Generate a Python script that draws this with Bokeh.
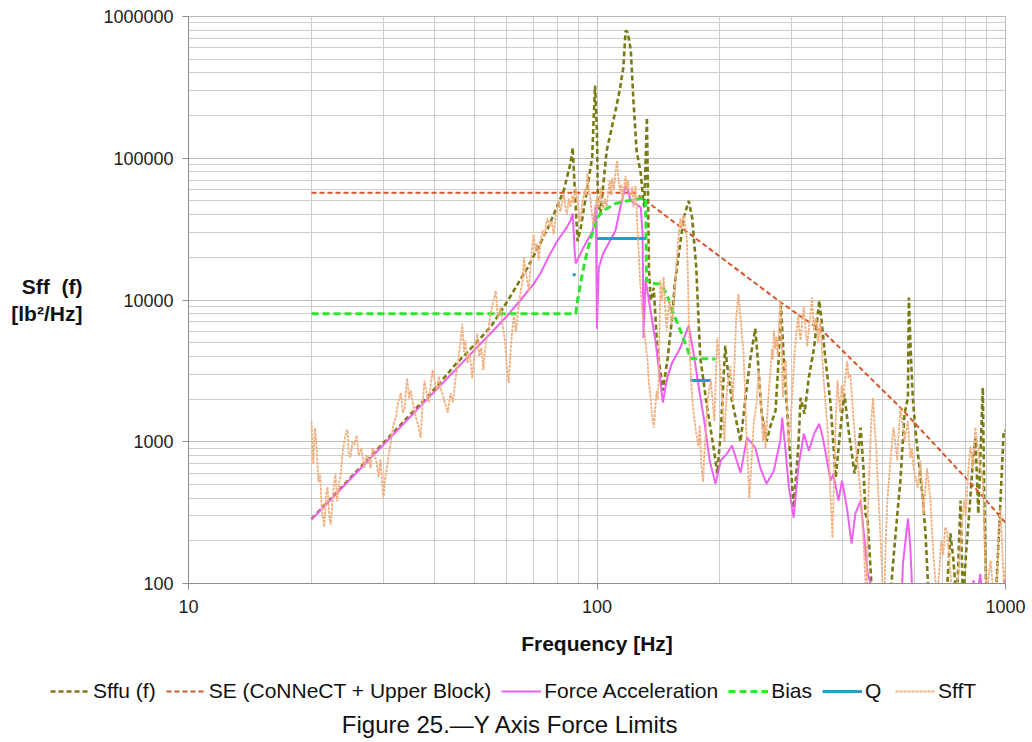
import math
from bokeh.plotting import figure
from bokeh.layouts import column
from bokeh.models import Range1d, FixedTicker, PrintfTickFormatter, Legend, LegendItem, Label
from bokeh.embed import file_html
from bokeh.resources import INLINE

NAN = float("nan")

# ---------------- data ----------------
sffu_freq = [20, 30, 40, 45, 50, 55, 60.5, 67.6, 75.8, 82.9, 86.1, 87.2, 88.0, 89.6, 91.2, 94.7, 97.3, 98.9,
             100, 100.5, 102, 105.6, 111, 113.6, 116, 117.5, 119, 121, 122.8, 125, 128, 129.3, 130.5, 132.5,
             133.5, 134, 135.3, 137.7, 140.4, 145, 149, 153, 155, 163, 167.7, 171, 175, 177, 179, 186, 193,
             197, 201, 206, 208, 214, 220, 224.6, 231, 237.6, 244, 248, 253, 260, 266, 273.6, 278, 282, 287,
             296, 303, 311, 315, 322, 330, 340, 350, 354, 362, 373, 384, 394, 403, 413, 427, 436, 442, 449,
             454, 460, 473, 520, 532, 543, 553, 566, 577, 580, 585, 593, 602, 612, 627, 637, 650, 715, 733,
             745, 760, 776, 787, 800, 815, 830, 844, 858, 880, 887, 898, 945, 972, 990, 1000]
sffu_val = [285, 980, 2350, 3500, 4800, 6500, 9900, 16900, 32000, 59000, 91900, 119000, 70000, 26000, 32000,
            62000, 101000, 326000, 149000, 50000, 40800, 113000, 217000, 300000, 436000, 796000, 770000, 576000,
            255000, 113000, 78000, 57000, 45000, 194000, 40000, 16900, 9900, 12200, 4600, 2300, 3930, 7900,
            13000, 38000, 50000, 38000, 16900, 7900, 3930, 1740, 908, 596, 1200, 4760, 3560, 1950, 1340, 1000,
            2050, 3930, 6280, 3560, 1580, 1000, 1300, 1660, 3560, 9120, 3560, 910, 343, 910, 2040, 1580, 2830,
            4620, 9900, 7500, 3930, 1860, 560, 1200, 2180, 1200, 596, 880, 1260, 650, 311, 277, 70, 70, 152,
            300, 531, 1580, 2040, 10400, 5000, 2040, 1200, 770, 404, 226, 70, 70, 226, 150, 70, 384, 70, 160,
            311, 656, 1070, 311, 2410, 404, 70, 70, 384, 1200, 1200]

se_freq = [20, 124, 282, 362, 553, 868, 1000]
se_val = [57000, 57000, 9600, 5800, 1740, 430, 268]

force_freq = [20, 30, 40, 50, 57, 60, 65, 70, 72.8, 76, 80, 84, 86.1, 87.2, 88.2, 88.7, 92.6, 97.7, 99.3,
              100, 101, 103.5, 111, 114, 117.5, 119, 120.9, 124, 128, 129.3, 130, 131.5, 134, 139, 145, 148.4,
              152.4, 160, 167.7, 173, 178, 183, 188.7, 195, 201, 208, 214, 224.6, 233, 244, 251, 260, 271, 281,
              284, 289, 295, 303, 311, 321, 330, 340, 350, 357, 363, 373, 379, 390, 398, 409, 420, 429, 442,
              460, 473, 480, 555, 561, 577, 585, 593, 820, 835, 850, 868, 880, 985, 993, 1000]
force_val = [282, 952, 2256, 4400, 6530, 7620, 10000, 13000, 15500, 20000, 26200, 32000, 36300, 40800, 22000,
             18100, 23400, 30900, 47000, 6280, 16900, 21200, 30900, 44800, 64100, 59000, 50200, 47900, 45000,
             29000, 5400, 14000, 9900, 5160, 1890, 2800, 3560, 4620, 6590, 3930, 2300, 1410, 737, 506, 737, 824,
             940, 605, 1070, 910, 656, 506, 625, 1020, 1480, 910, 474, 291, 656, 1140, 865, 1140, 1340, 1070,
             824, 531, 590, 384, 531, 343, 191, 311, 384, 117, 90, 60, 60, 138, 287, 179, 70, 70, 105, 80, 117,
             70, 70, 105, 90]

bias_freq = [20, 88.7, 89.6, 92.1, 94.7, 97.3, 100.2, 103.5, 111, 119, 128, 131.5, 132.2, 139, 143, 148, 153,
             160, 167, 169.4, 195]
bias_val = [8000, 8000, 9900, 15400, 22300, 29400, 38200, 42700, 47900, 50200, 52000, 52000, 13700, 13000,
            13000, 11100, 8400, 6080, 4390, 3860, 3840]

q_freq = [87.2, 88.7, NAN, 100, 131.5, NAN, 169, 190]
q_val = [15100, 15100, NAN, 27200, 27200, NAN, 2700, 2700]

sfft_freq = [20, 20.2, 20.4, 20.6, 20.8, 21.0, 21.2, 21.5, 21.7, 21.9, 22.1, 22.3, 22.6, 22.9, 23.1, 23.4,
             23.6, 23.9, 24.2, 24.5, 24.7, 24.9, 25.2, 25.5, 25.8, 26.1, 26.5, 26.9, 27.2, 27.5, 27.9, 28.2,
             28.5, 28.9, 29.2, 29.5, 29.8, 30.0, 30.3, 30.6, 30.9, 31.3, 31.7, 32.2, 32.6, 33.1, 33.5, 33.8,
             34.1, 34.3, 34.7, 35.0, 35.5, 36.0, 36.5, 37.0, 37.4, 37.8, 38.3, 38.8, 39.2, 39.6, 40.1, 40.6,
             41.0, 41.4, 42.2, 43.1, 43.8, 44.4, 45.0, 45.6, 46.2, 46.8, 47.2, 47.6, 48.2, 48.8, 49.5, 50.2,
             50.9, 51.5, 52.1, 52.7, 53.4, 54.1, 54.9, 55.6, 56.5, 57.2, 58.1, 58.8, 59.5, 60.1, 60.8, 61.5,
             62.0, 62.6, 63.3, 64.0, 64.5, 65.2, 65.8, 66.2, 66.8, 67.4, 68.1, 68.8, 69.4, 70.0, 70.7, 71.3,
             72.0, 72.8, 73.6, 74.5, 75.1, 75.7, 76.5, 77.4, 78.4, 79.3, 80.1, 80.6, 81.3, 82.1, 83.0, 83.6,
             84.4, 85.3, 86.1, 87.0, 87.6, 88.7, 89.4, 90.1, 90.6, 91.2, 92.2, 93.3, 94.0, 94.7, 95.5, 96.5,
             97.2, 98.0, 98.8, 99.5, 100.3, 101, 102, 102.7, 103.5, 104.5, 105.6, 106.5, 107.5, 108.2, 109,
             110, 111, 112, 113, 114, 114.7, 115.4, 116.4, 117.5, 118.2, 119, 120, 121, 122, 122.8, 123.5,
             124.3, 125, 125.6, 126.5, 127.2, 128, 129, 130, 131.5, 133, 134, 135.3, 136.5, 137.7, 138.8, 140,
             140.8, 141.5, 142.2, 143, 144.2, 145.6, 146.8, 148, 149.2, 150.5, 152, 153.4, 154.8, 156, 158,
             160, 161.5, 163, 164.5, 166, 167, 167.7, 168.8, 170, 171.2, 172.5, 174.5, 177, 178.5, 180, 182,
             183, 184, 185, 186, 188, 190, 192, 193.8, 195.5, 197, 199, 201, 203, 205, 206.5, 208, 210, 212,
             213.5, 215, 217, 219, 220.5, 222, 224, 226, 227, 228, 230, 232, 234, 236, 237.5, 239, 240.5, 242,
             244, 246, 247.5, 249, 250, 251, 253, 255, 257, 258.5, 260, 262, 264, 266, 268, 269.5, 271, 273,
             275, 277, 279, 280, 281, 283, 285, 287, 288.5, 290, 292, 293.5, 295, 297.5, 300, 302.5, 305, 308,
             311, 313, 315, 318, 321, 324, 327, 328.5, 330, 333, 336, 338, 340, 342.5, 345, 348, 352, 355, 359,
             363, 367, 370, 373, 375, 377, 380, 384, 386, 388, 391, 394, 397, 400, 405, 410, 413, 417, 421,
             425, 429, 434, 438, 442, 445, 449, 453, 457, 460, 464, 467, 470, 474, 478, 483, 487, 492, 497,
             501, 505, 509, 514, 520, 526, 532, 537, 543, 548, 553, 559, 566, 571, 577, 581, 585, 590, 596,
             603, 610, 614, 619, 624, 630, 636, 643, 649, 655, 660, 666, 673, 680, 688, 696, 704, 712, 720,
             728, 737, 745, 754, 765, 776, 784, 793, 800, 806, 813, 821, 826, 830, 837, 844, 851, 858, 865,
             872, 880, 886, 892, 898, 908, 919, 930, 945, 955, 963, 972, 980, 990, 1000]
sfft_val = [1400, 700, 1250, 900, 520, 600, 330, 250, 420, 480, 300, 260, 450, 600, 380, 520,
            600, 900, 1100, 1220, 800, 780, 1000, 950, 1110, 800, 900, 650, 800, 780, 650, 900,
            830, 700, 560, 750, 500, 400, 550, 650, 800, 1000, 1300, 1500, 1900, 2200, 1600, 1700,
            2400, 2800, 2000, 2300, 1800, 1500, 1300, 1070, 1800, 2700, 2200, 1900, 2600, 3200, 2600, 2300,
            2900, 2400, 2000, 1600, 2200, 1900, 2700, 3500, 4800, 6800, 4300, 5200, 3600, 4200, 2800, 4300,
            5800, 4000, 4600, 3200, 5000, 6000, 7900, 9500, 11600, 7500, 8900, 6500, 5200, 3500, 2600, 4500,
            6000, 7900, 6000, 8000, 9900, 12000, 13700, 20000, 16000, 14000, 11600, 18000, 24000, 29000, 22000, 25000,
            19000, 26000, 31000, 28000, 35000, 38000, 33000, 36000, 29000, 40000, 45000, 50000, 42000, 48000, 56000, 46000,
            40000, 52000, 45000, 55000, 48000, 62000, 52000, 43000, 35000, 38000, 50000, 60000, 55000, 78000, 60000, 50000,
            40000, 32000, 42000, 48000, 54000, 45000, 62000, 50000, 43000, 52000, 45000, 58000, 70000, 55000, 73000,
            60000, 80000, 96000, 68000, 59000, 65000, 50000, 62000, 75000, 60000, 70000, 58000, 55000, 63000, 45000, 52000,
            64000, 45000, 32000, 22000, 15000, 11600, 8500, 6800, 5000, 3700, 2600, 2040, 1500, 1260, 1700, 2300,
            2000, 2700, 6000, 13700, 10000, 14500, 9000, 6100, 8000, 10000, 6800, 7900, 11000, 16000, 26000,
            38000, 32000, 40000, 33000, 26000, 14000, 7200, 4200, 2700, 2000, 1600, 1200, 930, 1300, 700, 520,
            800, 1000, 1300, 1750, 2300, 2700, 1900, 1400, 3000, 5400, 4000, 2700, 1800, 1000, 1600, 2300, 2900, 3400,
            2600, 1950, 3500, 7200, 9000, 11000, 8000, 6100, 5000, 4700, 2500, 1200, 700, 400, 550, 740, 1000, 1370,
            1600, 1900, 2600, 3200, 2700, 2300, 1500, 1000, 1400, 900, 1200, 1800, 2500, 3200, 4500, 3800, 6100, 4500,
            5500, 4000, 6400, 8000, 10000, 5000, 2040, 2800, 3700, 3700, 1800, 1200, 930, 1400, 1900, 3000, 4400, 6000,
            7900, 6000, 5200, 7000, 8900, 6200, 4700, 5500, 6100, 8000, 10400, 7500, 6100, 7500, 7100, 5000, 7100, 4500, 2700,
            1800, 1180, 700, 400, 300, 210, 500, 1360, 2000, 2700, 2000, 1600, 2500, 2040, 2800, 3700, 2800, 3000, 2000,
            1400, 1000, 740, 550, 430, 300, 200, 120, 75, 300, 600, 1000, 1500, 2040, 1300, 860, 500, 280, 150,
            80, 75, 200, 390, 600, 900, 1260, 1000, 740, 1200, 1740, 1400, 1000, 1200, 1400, 1000, 770, 900, 640,
            550, 470, 600, 740, 500, 310, 450, 650, 500, 390, 250, 160, 110, 75, 120, 200, 160, 250, 230,
            150, 100, 85, 75, 110, 180, 280, 390, 300, 470, 700, 930, 800, 640, 900, 1260, 1000, 860, 700,
            600, 530, 300, 150, 75, 110, 145, 100, 75, 120, 250, 343, 200, 100, 130]

series_names = ["Sffu (f)", "SE (CoNNeCT + Upper Block)", "Force Acceleration", "Bias", "Q", "SffT"]
x_ticks = [10, 100, 1000]
y_ticks = [100, 1000, 10000, 100000, 1000000]
caption = "Figure 25.\u2014Y Axis Force Limits"

# ---------------- styles ----------------
FONT = "Liberation Sans"
styles = [
    dict(line_color="#7A7A12", line_width=2.6, line_dash="5 3"),
    dict(line_color="#D4562A", line_width=2, line_dash="5 3"),
    dict(line_color="#F060F0", line_width=2),
    dict(line_color="#2DE62D", line_width=3, line_dash="7 4"),
    dict(line_color="#2B9AD0", line_width=3),
    dict(line_color="#F2AE7C", line_width=1.8, line_dash="3 1"),
]

# ---------------- main figure ----------------
p = figure(width=1032, height=663, x_axis_type="log", y_axis_type="log",
           x_range=Range1d(10, 1000), y_range=Range1d(100, 1000000),
           output_backend="svg", toolbar_location=None,
           min_border_left=188, min_border_right=27, min_border_top=16, min_border_bottom=80)
p.outline_line_color = "#B8B8B8"
p.frame_align = False

x_minor = [m * d for d in (10, 100) for m in range(2, 10)]
y_minor = [m * d for d in (100, 1000, 10000, 100000) for m in range(2, 10)]
p.xaxis.ticker = FixedTicker(ticks=x_ticks, minor_ticks=x_minor)
p.yaxis.ticker = FixedTicker(ticks=y_ticks, minor_ticks=y_minor)
p.xaxis.formatter = PrintfTickFormatter(format="%d")
p.yaxis.formatter = PrintfTickFormatter(format="%d")

for ax in (p.xaxis, p.yaxis):
    ax.axis_line_color = "#8C8C8C"
    ax.major_tick_line_color = "#8C8C8C"
    ax.major_tick_out = 6
    ax.major_tick_in = 0
    ax.minor_tick_out = 0
    ax.minor_tick_in = 0
    ax.major_label_text_font = FONT
    ax.major_label_text_font_size = "18px"
    ax.major_label_text_color = "#222222"
    ax.axis_label_text_font = FONT
    ax.axis_label_text_font_size = "21px"
    ax.axis_label_text_font_style = "bold"
    ax.axis_label_text_color = "#111111"

p.xaxis.major_label_standoff = 10
p.xaxis.axis_label = "Frequency [Hz]"
p.xaxis.axis_label_standoff = 16
p.yaxis.major_label_standoff = 9
p.yaxis.axis_label = "Sff\u00a0 (f)\n[lb²/Hz]"
p.yaxis.axis_label_orientation = "horizontal"
p.yaxis.axis_label_standoff = 18

for g in (p.xgrid, p.ygrid):
    g.grid_line_color = "#BDBDBD"
    g.minor_grid_line_color = "#CDCDCD"
    g.grid_line_width = 1
    g.minor_grid_line_width = 1

data = [(sffu_freq, sffu_val), (se_freq, se_val), (force_freq, force_val),
        (bias_freq, bias_val), (q_freq, q_val), (sfft_freq, sfft_val)]
for (fx, vy), st in zip(data, styles):
    p.line(fx, vy, **st)

# ---------------- legend + caption strip ----------------
q = figure(width=1032, height=79, x_range=Range1d(0, 1), y_range=Range1d(0, 1),
           output_backend="svg", toolbar_location=None,
           x_axis_location=None, y_axis_location=None,
           min_border_left=0, min_border_right=0, min_border_top=0, min_border_bottom=0)
q.frame_align = False
q.xgrid.visible = False
q.ygrid.visible = False
q.outline_line_color = None

items = []
for name, st in zip(series_names, styles):
    r = q.line([5, 6], [5, 6], **st)   # outside the strip's range: only the legend swatch shows
    items.append(LegendItem(label=name, renderers=[r]))

legend = Legend(items=items, location=(50, 39), orientation="horizontal",
                glyph_width=40, glyph_height=20, label_standoff=3, spacing=10, padding=0, margin=0,
                border_line_alpha=0, background_fill_alpha=0,
                label_text_font=FONT, label_text_font_size="21px", label_text_color="#111111")
q.add_layout(legend)

q.add_layout(Label(x=510, y=18, x_units="screen", y_units="screen", text=caption,
                   text_align="center", text_baseline="middle", text_font=FONT,
                   text_font_size="24px", text_color="#111111"))

open("out.html", "w").write(file_html(column(p, q, spacing=0), INLINE))
